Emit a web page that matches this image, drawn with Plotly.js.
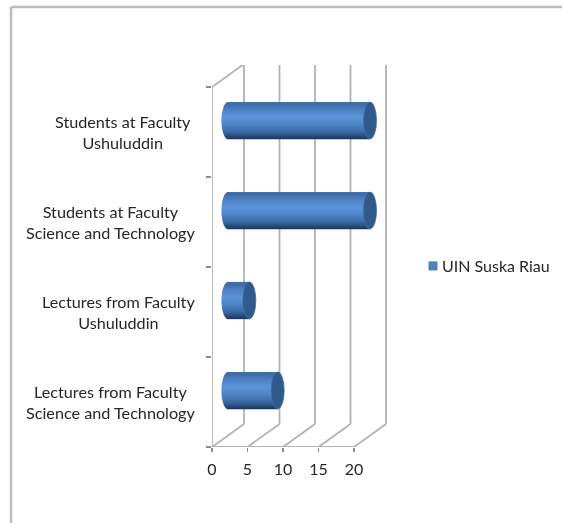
<!DOCTYPE html>
<html>
<head>
<meta charset="utf-8">
<script src="https://cdn.plot.ly/plotly-3.0.1.min.js"></script>
<style>html,body{margin:0;padding:0;background:#fff}#c{width:562px;height:523px;filter:blur(0.35px)}</style>
</head>
<body>
<div id="c"></div>
<script>
// Data, bottom to top as the axis runs
const categories = [
  "Lectures from Faculty<br>Science and Technology",
  "Lectures from Faculty<br>Ushuluddin",
  "Students at Faculty<br>Science and Technology",
  "Students at Faculty<br>Ushuluddin"
];
const seriesName = "UIN Suska Riau";
const values = [7, 3, 20, 20];
const xTicks = [0, 5, 10, 15, 20];

// Geometry of the pseudo-3D box, in axis units
const pxX = 7.1, pxY = 90;
const depthX = 32 / pxX, depthY = 23 / pxY;
const radX = 6.5 / pxX, radY = 18.5 / pxY;
const plotL = 212, plotB = 447, plotW = 178, plotH = 382;
const labelCentres = [110, 118, 110, 123];
const toPaperX = p => (p - plotL) / plotW;
const toPaperY = p => (plotB - p) / plotH;

// Shading of the cylinder from top edge (0) to bottom edge (1)
const stops = [[0, [72,112,165]], [0.06, [62,107,165]], [0.2, [76,128,194]], [0.4, [92,148,218]],
               [0.6, [80,133,200]], [0.8, [60,106,166]], [0.93, [38,74,122]], [1, [28,52,88]]];
function shade(t) {
  for (let i = 1; i < stops.length; i++) {
    if (t <= stops[i][0]) {
      const a = stops[i-1], b = stops[i], f = (t - a[0]) / (b[0] - a[0]);
      const c = a[1].map((v, k) => Math.round(v + (b[1][k] - v) * f));
      return `rgb(${c[0]},${c[1]},${c[2]})`;
    }
  }
  return "rgb(28,52,88)";
}

// Cylinder bodies: each bar is drawn as a stack of thin bands
const bandN = 37, bandX = [], bandY = [], bandBase = [], bandW = [], bandC = [];
values.forEach((v, i) => {
  const cy = i + 0.5 + depthY / 2;
  for (let b = 0; b < bandN; b++) {
    const t = (b + 0.5) / bandN, u = 2 * t - 1;
    const bulge = radX * Math.sqrt(1 - u * u);
    bandX.push(v + bulge);
    bandBase.push(depthX / 2 - bulge);
    bandY.push(cy - u * radY);
    bandW.push(2 * radY / bandN * 1.25);
    bandC.push(shade(t));
  }
});

const grey = "#b2b2b2";
const lineW = 1.8;
const shapes = [];
const wall = (x0, y0, x1, y1) => shapes.push({type: "line", xref: "x", yref: "y", x0, y0, x1, y1, layer: "below",
  line: {color: grey, width: lineW}});
xTicks.forEach(t => {
  wall(t, 0, t + depthX, depthY);
  wall(t + depthX, depthY, t + depthX, 4 + depthY);
});
wall(0, 4, depthX, 4 + depthY);
// End caps
values.forEach((v, i) => {
  const cy = i + 0.5 + depthY / 2, cx = v + depthX / 2;
  shapes.push({type: "circle", xref: "x", yref: "y", x0: cx - radX, x1: cx + radX, y0: cy - radY, y1: cy + radY,
    fillcolor: "#30598c", line: {color: "#3f6ca3", width: 0.8}, layer: "above"});
});
// Chart frame
const frame = {color: "#bcbcbc", width: 2.5};
shapes.push({type: "line", xref: "paper", yref: "paper", x0: toPaperX(11), x1: toPaperX(11), y0: toPaperY(7), y1: toPaperY(523), line: frame});
shapes.push({type: "line", xref: "paper", yref: "paper", x0: toPaperX(11), x1: toPaperX(562), y0: toPaperY(7), y1: toPaperY(7), line: frame});

const annotations = categories.map((c, i) => ({
  text: c, xref: "paper", yref: "y", x: toPaperX(labelCentres[i]), y: i + 0.5, xanchor: "center", yanchor: "middle",
  align: "center", showarrow: false, font: {family: "Lato, 'Open Sans', sans-serif", size: 16.2, color: "#262626"}
}));

const traces = [
  {type: "bar", orientation: "h", x: bandX, y: bandY, base: bandBase, width: bandW,
   marker: {color: bandC, line: {width: 0}}, showlegend: false, hoverinfo: "skip"},
  {type: "scatter", mode: "lines", x: [xTicks[0], xTicks[xTicks.length - 1] , null, 0, 0], y: [0, 0, null, 0, 4],
   line: {color: grey, width: lineW}, cliponaxis: false, showlegend: false, hoverinfo: "skip"},
  {type: "scatter", mode: "markers", name: seriesName, x: [null], y: [null],
   marker: {symbol: "square", size: 9, color: "#4f81bd"}, showlegend: true}
];

const layout = {
  width: 562, height: 523, autosize: false,
  margin: {l: plotL, r: 562 - plotL - plotW, t: plotB - plotH, b: 523 - plotB, pad: 0},
  paper_bgcolor: "#fff", plot_bgcolor: "rgba(0,0,0,0)",
  barmode: "overlay",
  font: {family: "Lato, 'Open Sans', sans-serif", size: 16, color: "#262626"},
  xaxis: {range: [0, plotW / pxX], tickmode: "array", tickvals: xTicks, ticktext: xTicks.map(String),
    ticks: "outside", ticklen: 4, tickcolor: "#8c8c8c", tickwidth: 1.2, showgrid: false, zeroline: false, showline: false,
    ticklabelstandoff: 4, tickfont: {size: 16, color: "#262626"}},
  yaxis: {range: [0, plotH / pxY], tickmode: "array", tickvals: [0, 1, 2, 3, 4], showticklabels: false,
    ticks: "outside", ticklen: 5, tickcolor: "#8c8c8c", tickwidth: 1.2, showgrid: false, zeroline: false, showline: false},
  legend: {xref: "container", yref: "container", x: 402 / 562, xanchor: "left", y: 1 - 266 / 523, yanchor: "middle",
    bgcolor: "rgba(0,0,0,0)", borderwidth: 0, font: {size: 16, color: "#262626"}},
  shapes, annotations
};

Plotly.newPlot("c", traces, layout, {displayModeBar: false, staticPlot: true}).then(() => {
  // Pull the legend swatch next to its label, as in the reference
  document.querySelectorAll("#c .legendsymbols").forEach(n => n.setAttribute("transform", "translate(11,0)"));
});
</script>
</body>
</html>
